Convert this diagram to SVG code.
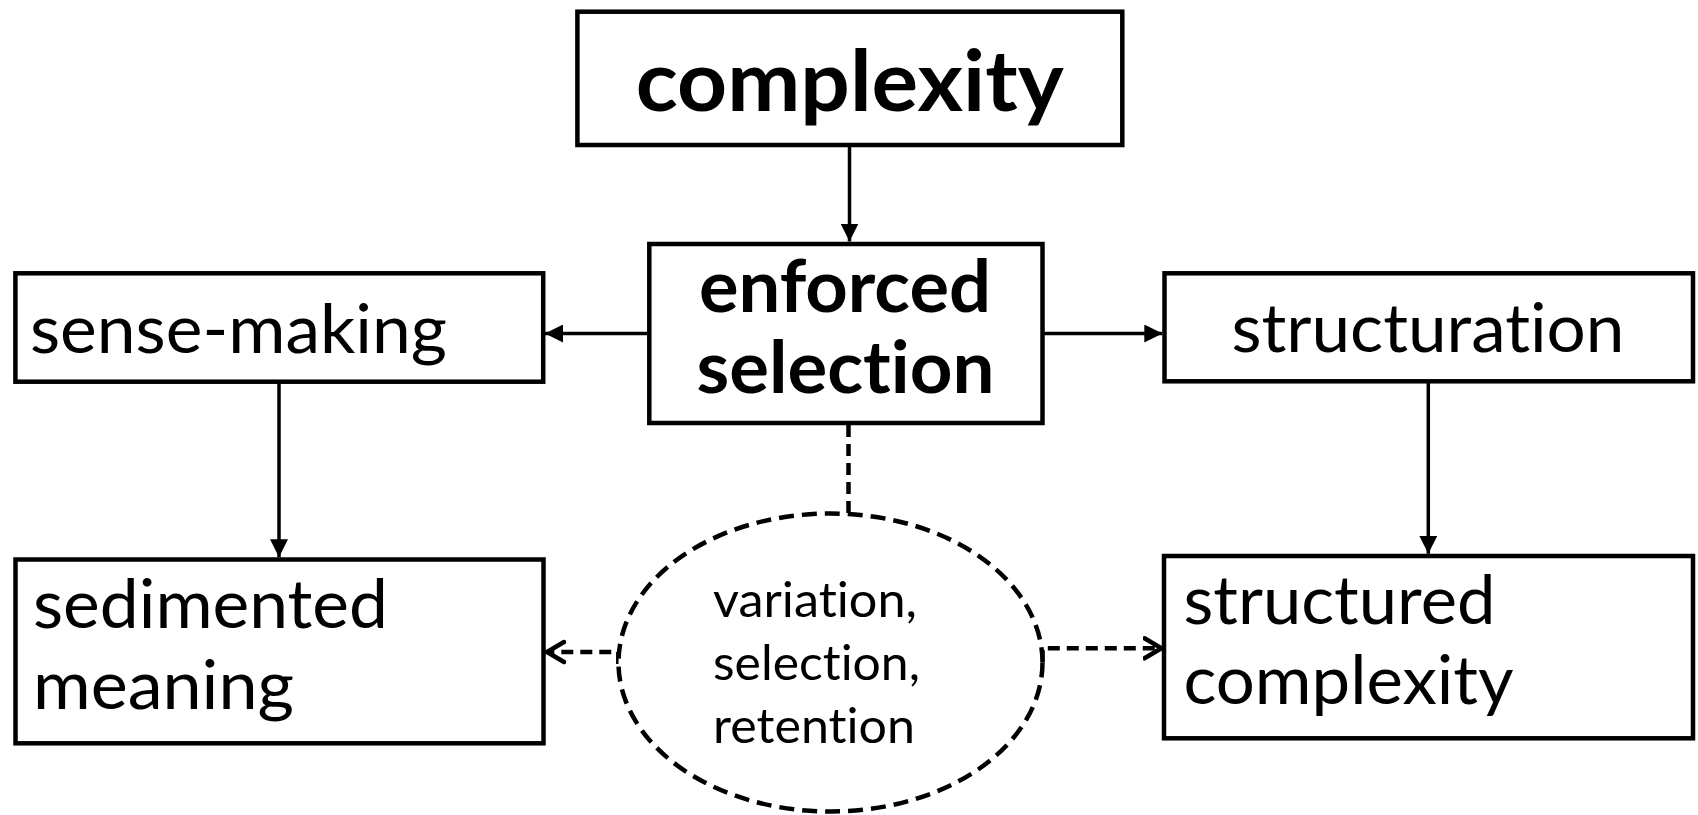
<svg xmlns="http://www.w3.org/2000/svg" width="1698" height="815" viewBox="0 0 1698 815">
  <style>
    .box { fill: #ffffff; stroke: #000000; stroke-width: 4.5; }
    .oval { fill: #ffffff; stroke: #000000; stroke-width: 4.5; stroke-dasharray: 15 8; }
    .link { fill: none; stroke: #000000; stroke-width: 3.5; }
    .dash { fill: none; stroke: #000000; stroke-width: 4.5; stroke-dasharray: 12 7; }
    .lbl { font-family: Lato, "Open Sans", "Liberation Sans", sans-serif; fill: #000000; font-variant-ligatures: none; font-feature-settings: "liga" 0, "clig" 0, "dlig" 0; }
    .big { font-weight: 700; font-size: 85px; }
    .bold { font-weight: 700; font-size: 72px; }
    .reg { font-weight: 400; font-size: 68px; }
    .small { font-weight: 400; font-size: 48px; }
  </style>
  <defs>
    <marker id="solidHead" markerUnits="userSpaceOnUse" markerWidth="18" markerHeight="18" viewBox="0 0 16 16" refX="16" refY="8" orient="auto">
      <path d="M0,0 L16,8 L0,16 Z" fill="#000000"/>
    </marker>
    <marker id="openHead" markerUnits="userSpaceOnUse" markerWidth="24" markerHeight="28" viewBox="-2 -4 24 28" refX="17" refY="10" orient="auto">
      <path d="M0,0 L17,10 L0,20" fill="none" stroke="#000000" stroke-width="4.5" stroke-linecap="round" stroke-linejoin="miter"/>
    </marker>
  </defs>

  <!-- connectors -->
  <g id="connectors">
    <line class="link" x1="849.5" y1="146" x2="849.5" y2="241.5" marker-end="url(#solidHead)"/>
    <line class="link" x1="649.3" y1="333.5" x2="545" y2="333.5" marker-end="url(#solidHead)"/>
    <line class="link" x1="1042.5" y1="333.5" x2="1162.3" y2="333.5" marker-end="url(#solidHead)"/>
    <line class="link" x1="279" y1="381.7" x2="279" y2="557.3" marker-end="url(#solidHead)"/>
    <line class="link" x1="1428.3" y1="381.3" x2="1428.3" y2="553.8" marker-end="url(#solidHead)"/>
    <line class="dash" x1="848.5" y1="425" x2="848.5" y2="525"/>
    <path class="dash" d="M618.3,664 V652 H547" marker-end="url(#openHead)"/>
    <path class="dash" d="M1042.5,662 V648.3 H1161.5" marker-end="url(#openHead)"/>
  </g>

  <g id="node-complexity">
    <rect class="box" x="577.4" y="11.7" width="544.9" height="133.3"/>
    <text class="lbl big" x="849.8" y="110.5" text-anchor="middle" textLength="428" lengthAdjust="spacingAndGlyphs">complexity</text>
  </g>

  <g id="node-enforced-selection">
    <rect class="box" x="649.3" y="244" width="393.2" height="179"/>
    <text class="lbl bold" x="845" y="311.7" text-anchor="middle" textLength="292" lengthAdjust="spacingAndGlyphs">enforced</text>
    <text class="lbl bold" x="845.5" y="393.3" text-anchor="middle" textLength="298" lengthAdjust="spacingAndGlyphs">selection</text>
  </g>

  <g id="node-sense-making">
    <rect class="box" x="15.4" y="273.3" width="527.8" height="108.4"/>
    <text class="lbl reg" x="30" y="352.7" textLength="417" lengthAdjust="spacingAndGlyphs">sense-making</text>
  </g>

  <g id="node-structuration">
    <rect class="box" x="1164.5" y="273.3" width="528.5" height="108"/>
    <text class="lbl reg" x="1428" y="351.5" text-anchor="middle" textLength="393" lengthAdjust="spacingAndGlyphs">structuration</text>
  </g>

  <g id="node-sedimented-meaning">
    <rect class="box" x="15.5" y="559.5" width="528" height="183.8"/>
    <text class="lbl reg" x="33" y="628.3" textLength="355" lengthAdjust="spacingAndGlyphs">sedimented</text>
    <text class="lbl reg" x="33" y="709.3" textLength="261" lengthAdjust="spacingAndGlyphs">meaning</text>
  </g>

  <g id="node-structured-complexity">
    <rect class="box" x="1164" y="556" width="529" height="182.3"/>
    <text class="lbl reg" x="1183.5" y="624.3" textLength="312" lengthAdjust="spacingAndGlyphs">structured</text>
    <text class="lbl reg" x="1183.5" y="704" textLength="330" lengthAdjust="spacingAndGlyphs">complexity</text>
  </g>

  <g id="node-vsr">
    <ellipse class="oval" cx="830.5" cy="662.5" rx="212" ry="149"/>
    <text class="lbl small" x="713" y="616.7" textLength="204" lengthAdjust="spacingAndGlyphs">variation,</text>
    <text class="lbl small" x="713" y="680" textLength="207" lengthAdjust="spacingAndGlyphs">selection,</text>
    <text class="lbl small" x="713" y="743" textLength="202" lengthAdjust="spacingAndGlyphs">retention</text>
  </g>
</svg>
